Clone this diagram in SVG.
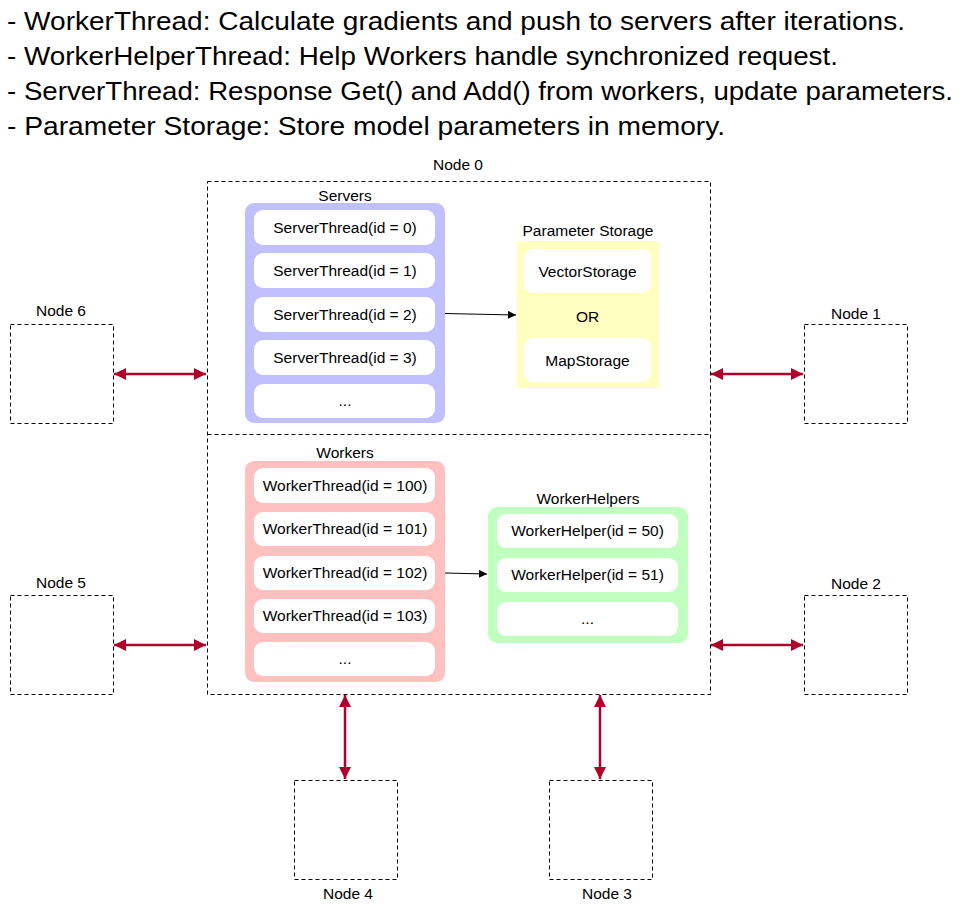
<svg xmlns="http://www.w3.org/2000/svg" width="967" height="909" viewBox="0 0 967 909">
<style>
text{font-family:"Liberation Sans",Arial,Helvetica,sans-serif;fill:#000}
.t{font-size:25px}
.s{font-size:15.5px;text-anchor:middle}
.dash{fill:none;stroke:#000;stroke-width:1;stroke-dasharray:4,3}
.item{fill:#fff}
.red{stroke:#b0002a;stroke-width:2.5;fill:none}
.blk{stroke:#000;stroke-width:1;fill:none}
</style>
<defs>
<marker id="ra" markerUnits="userSpaceOnUse" markerWidth="14" markerHeight="12" refX="12" refY="6" orient="auto-start-reverse">
<path d="M0,0 L12,6 L0,12 Z" fill="#b0002a"/>
</marker>
<marker id="ba" markerUnits="userSpaceOnUse" markerWidth="10" markerHeight="8" refX="8" refY="4" orient="auto">
<path d="M0,0 L8,4 L0,8 Z" fill="#000"/>
</marker>
</defs>
<g id="legend">
<text class="t" x="7" y="30" textLength="898" lengthAdjust="spacingAndGlyphs">- WorkerThread: Calculate gradients and push to servers after iterations.</text>
<text class="t" x="7" y="65" textLength="831" lengthAdjust="spacingAndGlyphs">- WorkerHelperThread: Help Workers handle synchronized request.</text>
<text class="t" x="7" y="100" textLength="946" lengthAdjust="spacingAndGlyphs">- ServerThread: Response Get() and Add() from workers, update parameters.</text>
<text class="t" x="7" y="135" textLength="718" lengthAdjust="spacingAndGlyphs">- Parameter Storage: Store model parameters in memory.</text>
</g>
<g id="node0">
<rect class="dash" x="207.5" y="181.5" width="503" height="513"/>
<line class="dash" x1="207.5" y1="434.5" x2="710.5" y2="434.5"/>
<text class="s" x="458" y="170">Node 0</text>
</g>
<g id="servers">
<text class="s" x="345" y="201">Servers</text>
<rect x="245" y="203" width="200" height="220" rx="9" fill="#c0c0ff"/>
<rect class="item" x="254" y="210" width="181" height="35" rx="9"/>
<rect class="item" x="254" y="253" width="181" height="35" rx="9"/>
<rect class="item" x="254" y="297" width="181" height="35" rx="9"/>
<rect class="item" x="254" y="340" width="181" height="35" rx="9"/>
<rect class="item" x="254" y="384" width="181" height="34" rx="9"/>
<text class="s" x="345" y="233">ServerThread(id = 0)</text>
<text class="s" x="345" y="276">ServerThread(id = 1)</text>
<text class="s" x="345" y="320">ServerThread(id = 2)</text>
<text class="s" x="345" y="363">ServerThread(id = 3)</text>
<text class="s" x="345" y="406">...</text>
</g>
<g id="storage">
<text class="s" x="588" y="236">Parameter Storage</text>
<rect x="517" y="241" width="142" height="147" fill="#ffffc0"/>
<rect class="item" x="524" y="249" width="127" height="44" rx="9"/>
<rect class="item" x="524" y="338" width="127" height="44" rx="9"/>
<text class="s" x="587.5" y="277">VectorStorage</text>
<text class="s" x="587.5" y="322">OR</text>
<text class="s" x="587.5" y="366">MapStorage</text>
</g>
<g id="workers">
<text class="s" x="345" y="458">Workers</text>
<rect x="245" y="461" width="200" height="221" rx="9" fill="#ffc0c0"/>
<rect class="item" x="254" y="468" width="181" height="35" rx="9"/>
<rect class="item" x="254" y="512" width="181" height="34" rx="9"/>
<rect class="item" x="254" y="556" width="181" height="34" rx="9"/>
<rect class="item" x="254" y="599" width="181" height="34" rx="9"/>
<rect class="item" x="254" y="642" width="181" height="34" rx="9"/>
<text class="s" x="345" y="491">WorkerThread(id = 100)</text>
<text class="s" x="345" y="534">WorkerThread(id = 101)</text>
<text class="s" x="345" y="578">WorkerThread(id = 102)</text>
<text class="s" x="345" y="621">WorkerThread(id = 103)</text>
<text class="s" x="345" y="664">...</text>
</g>
<g id="helpers">
<text class="s" x="588" y="504">WorkerHelpers</text>
<rect x="488" y="507" width="200" height="136" rx="9" fill="#c0ffc0"/>
<rect class="item" x="497" y="514" width="181" height="34" rx="9"/>
<rect class="item" x="497" y="558" width="181" height="34" rx="9"/>
<rect class="item" x="497" y="602" width="181" height="34" rx="9"/>
<text class="s" x="587.5" y="536">WorkerHelper(id = 50)</text>
<text class="s" x="587.5" y="580">WorkerHelper(id = 51)</text>
<text class="s" x="587.5" y="624">...</text>
</g>
<g id="node6"><rect class="dash" x="10.5" y="324.5" width="103" height="99"/><text class="s" x="61" y="316">Node 6</text></g>
<g id="node5"><rect class="dash" x="10.5" y="595.5" width="103" height="99"/><text class="s" x="61" y="588">Node 5</text></g>
<g id="node1"><rect class="dash" x="804.5" y="324.5" width="103" height="99"/><text class="s" x="856" y="319">Node 1</text></g>
<g id="node2"><rect class="dash" x="804.5" y="595.5" width="103" height="99"/><text class="s" x="856" y="589">Node 2</text></g>
<g id="node4"><rect class="dash" x="294.5" y="780.5" width="103" height="99"/><text class="s" x="348" y="899">Node 4</text></g>
<g id="node3"><rect class="dash" x="549.5" y="780.5" width="103" height="99"/><text class="s" x="607" y="899">Node 3</text></g>
<g id="connectors">
<line class="blk" x1="445" y1="313.5" x2="516" y2="315" marker-end="url(#ba)"/>
<line class="blk" x1="445" y1="573" x2="487" y2="574" marker-end="url(#ba)"/>
<line class="red" x1="114" y1="374" x2="206" y2="374" marker-start="url(#ra)" marker-end="url(#ra)"/>
<line class="red" x1="114" y1="645" x2="206" y2="645" marker-start="url(#ra)" marker-end="url(#ra)"/>
<line class="red" x1="711" y1="374" x2="803" y2="374" marker-start="url(#ra)" marker-end="url(#ra)"/>
<line class="red" x1="711" y1="645" x2="803" y2="645" marker-start="url(#ra)" marker-end="url(#ra)"/>
<line class="red" x1="345" y1="695" x2="345" y2="779" marker-start="url(#ra)" marker-end="url(#ra)"/>
<line class="red" x1="600" y1="695" x2="600" y2="779" marker-start="url(#ra)" marker-end="url(#ra)"/>
</g>
</svg>
